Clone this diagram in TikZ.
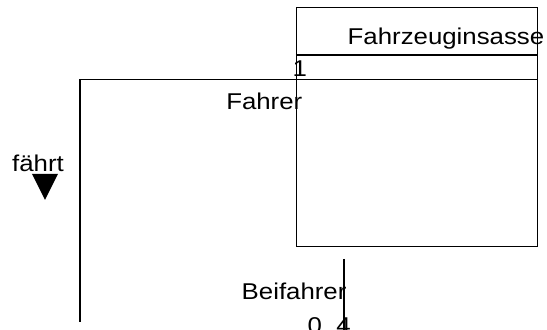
\documentclass[tikz,border=0pt]{standalone}
\usepackage{fontspec}
\setmainfont{Liberation Sans}[FakeStretch=1.13]
\usepackage{tikz}

\begin{document}
\begin{tikzpicture}[scale=0.2, line width=0.8pt]
\tikzstyle{every node}+=[inner sep=0pt, font=\fontsize{13}{15}\selectfont]
\tikzstyle{klasse}=[draw, black, line width=0.8pt, minimum width=4.82cm, minimum height=4.78cm, anchor=north west]
\useasboundingbox (0,0) rectangle (54.7,-33);
\node [klasse] (insasse) at (29.6,-0.7) {};
\draw (insasse.west |- 0,-5.5) -- (insasse.east |- 0,-5.5);
\draw (insasse.west |- 0,-7.95) -- (insasse.east |- 0,-7.95);
\node [anchor=base west] (name) at (34.7,-4.45) {Fahrzeuginsasse};
\coordinate (fahrer) at (29.6,-7.95);
\coordinate (knick) at (8.0,-7.95);
\coordinate (ende) at (8.0,-32.2);
\draw [black] (fahrer) -- (knick) -- (ende);
\coordinate (beifahrer) at (34.4,-25.9);
\coordinate (unten) at (34.4,-33.5);
\draw [black] (beifahrer) -- (unten);
\node [anchor=base west] (eins) at (29.2,-7.7) {1};
\node [anchor=base east] (rolle1) at (30.3,-10.95) {Fahrer};
\node [anchor=base west] (assoz) at (1.15,-17.2) {fährt};
\fill [black] (3.2,-17.4) -- (5.8,-17.4) -- (4.5,-20.0) -- cycle;
\node [anchor=base west] (rolle2) at (24.1,-30.0) {Beifahrer};
\node [anchor=base west] (mult) at (30.7,-33.35) {0..4};
\end{tikzpicture}
\end{document}
